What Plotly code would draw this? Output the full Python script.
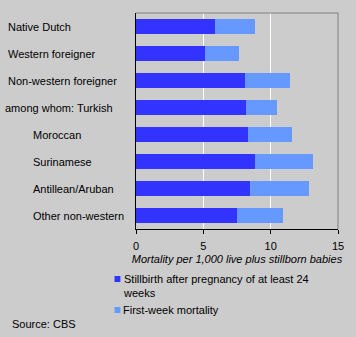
import plotly.graph_objects as go

# Perinatal mortality by origin of the mother
groups = ["Native Dutch", "Western foreigner", "Non-western foreigner",
          "among whom: Turkish", "Moroccan", "Surinamese",
          "Antillean/Aruban", "Other non-western"]
stillbirth = [5.9, 5.1, 8.1, 8.2, 8.3, 8.8, 8.5, 7.5]
first_week = [2.95, 2.55, 3.35, 2.25, 3.25, 4.35, 4.35, 3.45]
x_ticks = [0, 5, 10, 15]

series_names = ["Stillbirth after pregnancy of at least 24<br>weeks",
                "First-week mortality"]
colors = ["#3333ff", "#6699ff"]

W, H = 356, 337
L, R, T, B = 136, 13, 13, 108
PW, PH = W - L - R, H - T - B
BG = "#cccccc"
FONT = "Liberation Sans, Arial, sans-serif"


def px_x(px):
    return (px - L) / PW


def px_y(py):
    return (H - B - py) / PH


fig = go.Figure()
fig.add_trace(go.Bar(y=groups, x=stillbirth, orientation="h",
                     marker=dict(color=colors[0], line=dict(width=0)),
                     name="Stillbirth", showlegend=False))
fig.add_trace(go.Bar(y=groups, x=first_week, orientation="h",
                     marker=dict(color=colors[1], line=dict(width=0)),
                     name="First-week mortality", showlegend=False))

# category labels, some indented as sub-groups
indent = {"among whom: Turkish": 5, "Native Dutch": 8,
          "Western foreigner": 8, "Non-western foreigner": 8}
annotations = []
for g in groups:
    left = indent.get(g, 33) - 2
    annotations.append(dict(text=g, x=0, xref="paper", xshift=left - L,
                            y=g, yref="y", xanchor="left", yanchor="middle",
                            showarrow=False, font=dict(size=11, color="black", family=FONT)))

# legend drawn below the axis
shapes = []
legend_rows = [(279, 285.5), (310, 310)]
for (sq_y, txt_y), name, col in zip(legend_rows, series_names, colors):
    shapes.append(dict(type="rect", xref="paper", yref="paper",
                       x0=px_x(114), x1=px_x(120), y0=px_y(sq_y - 3), y1=px_y(sq_y + 3),
                       fillcolor=col, line=dict(width=0)))
    annotations.append(dict(text=name, xref="paper", yref="paper",
                            x=px_x(121), y=px_y(txt_y), xanchor="left", yanchor="middle",
                            align="left", showarrow=False,
                            font=dict(size=11, color="black", family=FONT)))

annotations.append(dict(text="Source: CBS", xref="paper", yref="paper",
                        x=px_x(7), y=px_y(324), xanchor="left", yanchor="middle",
                        showarrow=False, font=dict(size=11, color="black", family=FONT)))

# grey frame on top and right
shapes.append(dict(type="line", xref="paper", yref="paper", x0=0, x1=1, y0=1, y1=1,
                   line=dict(color="#808080", width=1)))
shapes.append(dict(type="line", xref="paper", yref="paper", x0=1, x1=1, y0=0, y1=1,
                   line=dict(color="#808080", width=1)))

fig.update_layout(
    width=W, height=H,
    margin=dict(l=L, r=R, t=T, b=B),
    paper_bgcolor=BG, plot_bgcolor=BG,
    barmode="stack", bargap=0.455,
    font=dict(family=FONT, size=11, color="black"),
    annotations=annotations, shapes=shapes,
    xaxis=dict(range=[0, 15], tickvals=x_ticks, showgrid=True, gridcolor="white",
               gridwidth=1, zeroline=False, showline=True, linecolor="black",
               linewidth=1, ticks="outside", ticklen=4, tickcolor="black",
               ticklabelstandoff=3,
               tickfont=dict(size=11, color="black"),
               title=dict(text="<i>Mortality per 1,000 live plus stillborn babies</i>",
                          font=dict(size=11, color="black"), standoff=4)),
    yaxis=dict(categoryorder="array", categoryarray=groups, autorange="reversed",
               showticklabels=False, showgrid=False, zeroline=False, showline=True,
               linecolor="black", linewidth=1, ticks=""),
)

fig.write_html("out.html")
